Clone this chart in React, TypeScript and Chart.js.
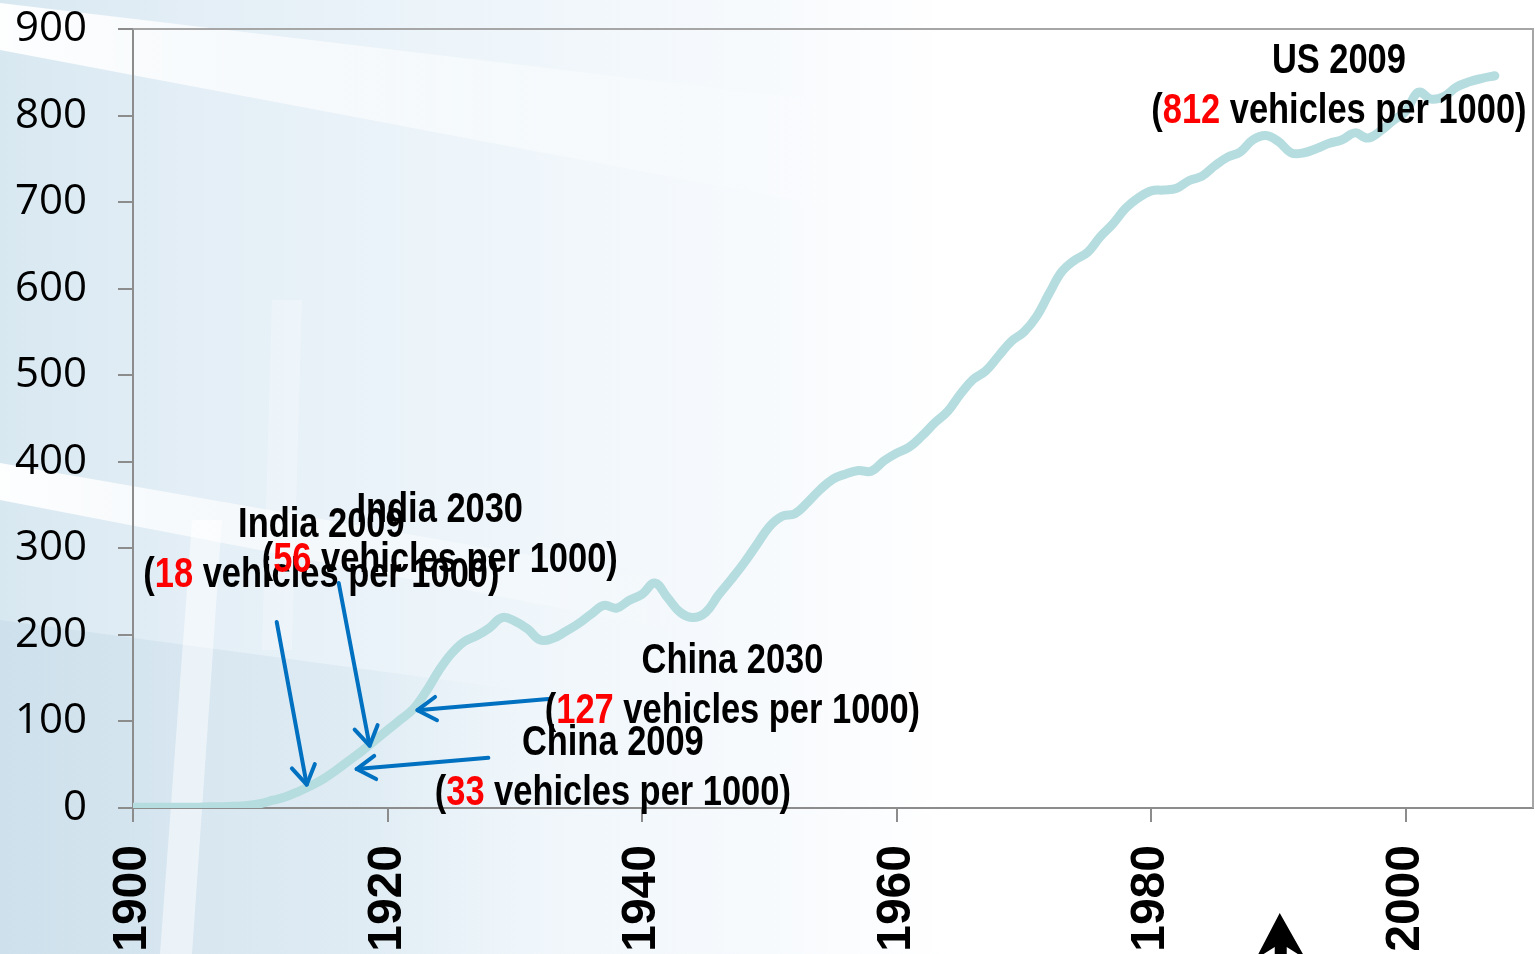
import React, { useEffect, useRef } from "react";
import { Chart, registerables } from "chart.js";

Chart.register(...registerables);

// ---- data ----
const years = [
  1900, 1901, 1902, 1903, 1904, 1905, 1906, 1907, 1908, 1909,
  1910, 1911, 1912, 1913, 1914, 1915, 1916, 1917, 1918, 1919,
  1920, 1921, 1922, 1923, 1924, 1925, 1926, 1927, 1928, 1929,
  1930, 1931, 1932, 1933, 1934, 1935, 1936, 1937, 1938, 1939,
  1940, 1941, 1942, 1943, 1944, 1945, 1946, 1947, 1948, 1949,
  1950, 1951, 1952, 1953, 1954, 1955, 1956, 1957, 1958, 1959,
  1960, 1961, 1962, 1963, 1964, 1965, 1966, 1967, 1968, 1969,
  1970, 1971, 1972, 1973, 1974, 1975, 1976, 1977, 1978, 1979,
  1980, 1981, 1982, 1983, 1984, 1985, 1986, 1987, 1988, 1989,
  1990, 1991, 1992, 1993, 1994, 1995, 1996, 1997, 1998, 1999,
  2000, 2001, 2002, 2003, 2004, 2005, 2006, 2007,
];

const vehiclesPer1000 = [
  1, 1, 1, 1, 1, 1, 1.5, 1.5, 2, 3,
  5, 9, 13, 19, 26, 34, 44, 55, 66, 78,
  90, 102, 114, 134, 158, 178, 192, 199, 208, 220,
  216, 207, 194, 196, 204, 213, 224, 234, 231, 240,
  247, 260, 243, 226, 220, 226, 246, 264, 283, 304,
  325, 337, 340, 353, 368, 380, 386, 390, 389, 401,
  410, 417, 430, 445, 458, 478, 495, 505, 522, 539,
  550, 568, 595, 620, 633, 642, 660, 675, 693, 705,
  713, 714, 716, 725, 730, 742, 752, 758, 772, 777,
  770, 757, 757, 762, 768, 772, 780, 774, 782, 794,
  805, 827, 819, 822, 833, 839, 843, 846,
];

const xTickYears = [1900, 1920, 1940, 1960, 1980, 2000];

// annotations (text centre year, baseline value of the first line)
const annoTitles = ["US 2009", "India 2009", "India 2030", "China 2030", "China 2009"];
const annoNumbers = ["812", "18", "56", "127", "33"];
const annoYears = [1994.75, 1914.8, 1924.1, 1947.1, 1937.7];
const annoValues = [849, 313, 330, 156, 61];

// blue arrows: from -> to (tip)
const arrowFromYears = [1911.29, 1916.16, 1932.63, 1927.92];
const arrowFromValues = [215, 260, 126, 58];
const arrowToYears = [1913.65, 1918.59, 1922.35, 1917.57];
const arrowToValues = [27, 72, 113, 45];

const blackArrowYear = 1990.1;

const LINE_COLOR = "#b5dcdf";
const AXIS_COLOR = "#8c8c8c";

function drawNarrowLine(
  ctx: CanvasRenderingContext2D,
  parts: { text: string; color: string }[],
  cx: number,
  baseline: number
) {
  const sx = 0.82;
  ctx.save();
  ctx.font = "bold 42px 'Liberation Sans', Arial, sans-serif";
  ctx.textBaseline = "alphabetic";
  ctx.textAlign = "left";
  let total = 0;
  parts.forEach((p) => (total += ctx.measureText(p.text).width));
  const start = cx - (total * sx) / 2;
  ctx.translate(start, baseline);
  ctx.scale(sx, 1);
  let x = 0;
  parts.forEach((p) => {
    ctx.fillStyle = p.color;
    ctx.fillText(p.text, x, 0);
    x += ctx.measureText(p.text).width;
  });
  ctx.restore();
}

const decorPlugin = {
  id: "decor",
  beforeDraw(chart: any) {
    const { ctx, width, height } = chart;
    ctx.save();
    const g = ctx.createLinearGradient(0, 0, width, 0);
    g.addColorStop(0, "#d8e8f1");
    g.addColorStop(0.12, "#e3eef6");
    g.addColorStop(0.3, "#edf5fa");
    g.addColorStop(0.5, "#f7fafd");
    g.addColorStop(0.62, "#ffffff");
    g.addColorStop(1, "#ffffff");
    ctx.fillStyle = g;
    ctx.fillRect(0, 0, width, height);

    // slightly darker lower-left region, fading to the right
    const dg = ctx.createLinearGradient(0, 0, 520, 0);
    dg.addColorStop(0, "rgba(185,210,225,0.35)");
    dg.addColorStop(0.7, "rgba(185,210,225,0.2)");
    dg.addColorStop(1, "rgba(185,210,225,0)");
    ctx.fillStyle = dg;
    ctx.beginPath();
    ctx.moveTo(0, 620);
    ctx.lineTo(520, 690);
    ctx.lineTo(520, height);
    ctx.lineTo(0, height);
    ctx.closePath();
    ctx.fill();

    // white diagonal band at the top
    const wg = ctx.createLinearGradient(0, 0, 900, 0);
    wg.addColorStop(0, "rgba(255,255,255,0.95)");
    wg.addColorStop(1, "rgba(255,255,255,0)");
    ctx.fillStyle = wg;
    ctx.beginPath();
    ctx.moveTo(0, 3);
    ctx.lineTo(900, 110);
    ctx.lineTo(900, 220);
    ctx.lineTo(0, 50);
    ctx.closePath();
    ctx.fill();

    // white diagonal band in the middle
    const wg2 = ctx.createLinearGradient(0, 0, 700, 0);
    wg2.addColorStop(0, "rgba(255,255,255,0.95)");
    wg2.addColorStop(1, "rgba(255,255,255,0)");
    ctx.fillStyle = wg2;
    ctx.beginPath();
    ctx.moveTo(0, 463);
    ctx.lineTo(700, 585);
    ctx.lineTo(700, 635);
    ctx.lineTo(0, 500);
    ctx.closePath();
    ctx.fill();

    // vertical light strips
    ctx.fillStyle = "rgba(255,255,255,0.5)";
    ctx.beginPath();
    ctx.moveTo(192, 520);
    ctx.lineTo(222, 520);
    ctx.lineTo(192, height);
    ctx.lineTo(160, height);
    ctx.closePath();
    ctx.fill();
    ctx.fillStyle = "rgba(255,255,255,0.3)";
    ctx.beginPath();
    ctx.moveTo(272, 300);
    ctx.lineTo(302, 300);
    ctx.lineTo(292, 650);
    ctx.lineTo(262, 650);
    ctx.closePath();
    ctx.fill();
    ctx.restore();
  },
  afterDraw(chart: any) {
    const { ctx, chartArea } = chart;
    const xs = chart.scales.x;
    const ys = chart.scales.y;
    ctx.save();

    // top and right frame
    ctx.strokeStyle = "#a6a6a6";
    ctx.lineWidth = 2;
    ctx.beginPath();
    ctx.moveTo(chartArea.left, chartArea.top);
    ctx.lineTo(chartArea.right, chartArea.top);
    ctx.lineTo(chartArea.right, chartArea.bottom);
    ctx.stroke();

    // blue arrows
    ctx.strokeStyle = "#0070c0";
    ctx.lineWidth = 4;
    ctx.lineCap = "round";
    ctx.lineJoin = "round";
    for (let i = 0; i < arrowFromYears.length; i++) {
      const x1 = xs.getPixelForValue(arrowFromYears[i]);
      const y1 = ys.getPixelForValue(arrowFromValues[i]);
      const x2 = xs.getPixelForValue(arrowToYears[i]);
      const y2 = ys.getPixelForValue(arrowToValues[i]);
      ctx.beginPath();
      ctx.moveTo(x1, y1);
      ctx.lineTo(x2, y2);
      ctx.stroke();
      const ang = Math.atan2(y2 - y1, x2 - x1);
      const L = 22;
      const a = (32 * Math.PI) / 180;
      ctx.beginPath();
      ctx.moveTo(x2 - L * Math.cos(ang - a), y2 - L * Math.sin(ang - a));
      ctx.lineTo(x2, y2);
      ctx.lineTo(x2 - L * Math.cos(ang + a), y2 - L * Math.sin(ang + a));
      ctx.stroke();
    }

    // annotation texts
    for (let i = 0; i < annoTitles.length; i++) {
      const cx = xs.getPixelForValue(annoYears[i]);
      const by = ys.getPixelForValue(annoValues[i]);
      drawNarrowLine(ctx, [{ text: annoTitles[i], color: "#000" }], cx, by);
      drawNarrowLine(
        ctx,
        [
          { text: "(", color: "#000" },
          { text: annoNumbers[i], color: "#ff0000" },
          { text: " vehicles per 1000)", color: "#000" },
        ],
        cx,
        by + 50
      );
    }

    // black up arrow at the bottom (cropped)
    const bx = xs.getPixelForValue(blackArrowYear);
    const tipY = chartArea.bottom + 105;
    ctx.fillStyle = "#000";
    ctx.beginPath();
    ctx.moveTo(bx, tipY);
    ctx.lineTo(bx + 26, tipY + 46);
    ctx.lineTo(bx + 7, tipY + 34);
    ctx.lineTo(bx + 7, tipY + 50);
    ctx.lineTo(bx - 5, tipY + 50);
    ctx.lineTo(bx - 5, tipY + 34);
    ctx.lineTo(bx - 24, tipY + 46);
    ctx.closePath();
    ctx.fill();
    ctx.restore();
  },
};

export default function App() {
  const ref = useRef<HTMLCanvasElement>(null);

  useEffect(() => {
    if (!ref.current) return;
    const chart = new Chart(ref.current, {
      type: "line",
      data: {
        datasets: [
          {
            data: years.map((y, i) => ({ x: y, y: vehiclesPer1000[i] })),
            borderColor: LINE_COLOR,
            borderWidth: 9,
            pointRadius: 0,
            tension: 0.4,
            borderCapStyle: "round",
            borderJoinStyle: "round",
            fill: false,
          },
        ],
      },
      options: {
        responsive: false,
        animation: false,
        layout: { padding: { top: 29, right: 2, left: 0, bottom: 0 } },
        plugins: {
          legend: { display: false },
          tooltip: { enabled: false },
        },
        scales: {
          x: {
            type: "linear",
            min: 1900,
            max: 2010,
            afterBuildTicks: (s: any) => {
              s.ticks = xTickYears.map((v) => ({ value: v }));
            },
            afterFit: (s: any) => {
              s.height = 146;
              s.paddingLeft = 0;
              s.paddingRight = 0;
            },
            ticks: {
              autoSkip: false,
              minRotation: 90,
              maxRotation: 90,
              padding: 23,
              color: "#000",
              font: { family: "'Liberation Sans', Arial, sans-serif", weight: "bold", size: 48 },
              callback: (v: any) => String(v),
            },
            grid: {
              drawOnChartArea: false,
              drawTicks: true,
              tickLength: 14,
              color: AXIS_COLOR,
              lineWidth: 2,
            },
            border: { display: true, color: AXIS_COLOR, width: 2 },
          },
          y: {
            type: "linear",
            min: 0,
            max: 900,
            afterFit: (s: any) => {
              s.width = 133;
              s.paddingTop = 0;
              s.paddingBottom = 0;
            },
            ticks: {
              stepSize: 100,
              padding: 31,
              color: "#000",
              font: { family: "'Open Sans', sans-serif", size: 42 },
              callback: (v: any) => String(v),
            },
            grid: {
              drawOnChartArea: false,
              drawTicks: true,
              tickLength: 15,
              color: AXIS_COLOR,
              lineWidth: 2,
            },
            border: { display: true, color: AXIS_COLOR, width: 2 },
          },
        },
      },
      plugins: [decorPlugin],
    } as any);
    return () => chart.destroy();
  }, []);

  return (
    <div style={{ position: "absolute", left: 0, top: 0, width: 1535, height: 954, overflow: "hidden" }}>
      <canvas ref={ref} width={1535} height={954} style={{ display: "block" }} />
    </div>
  );
}
